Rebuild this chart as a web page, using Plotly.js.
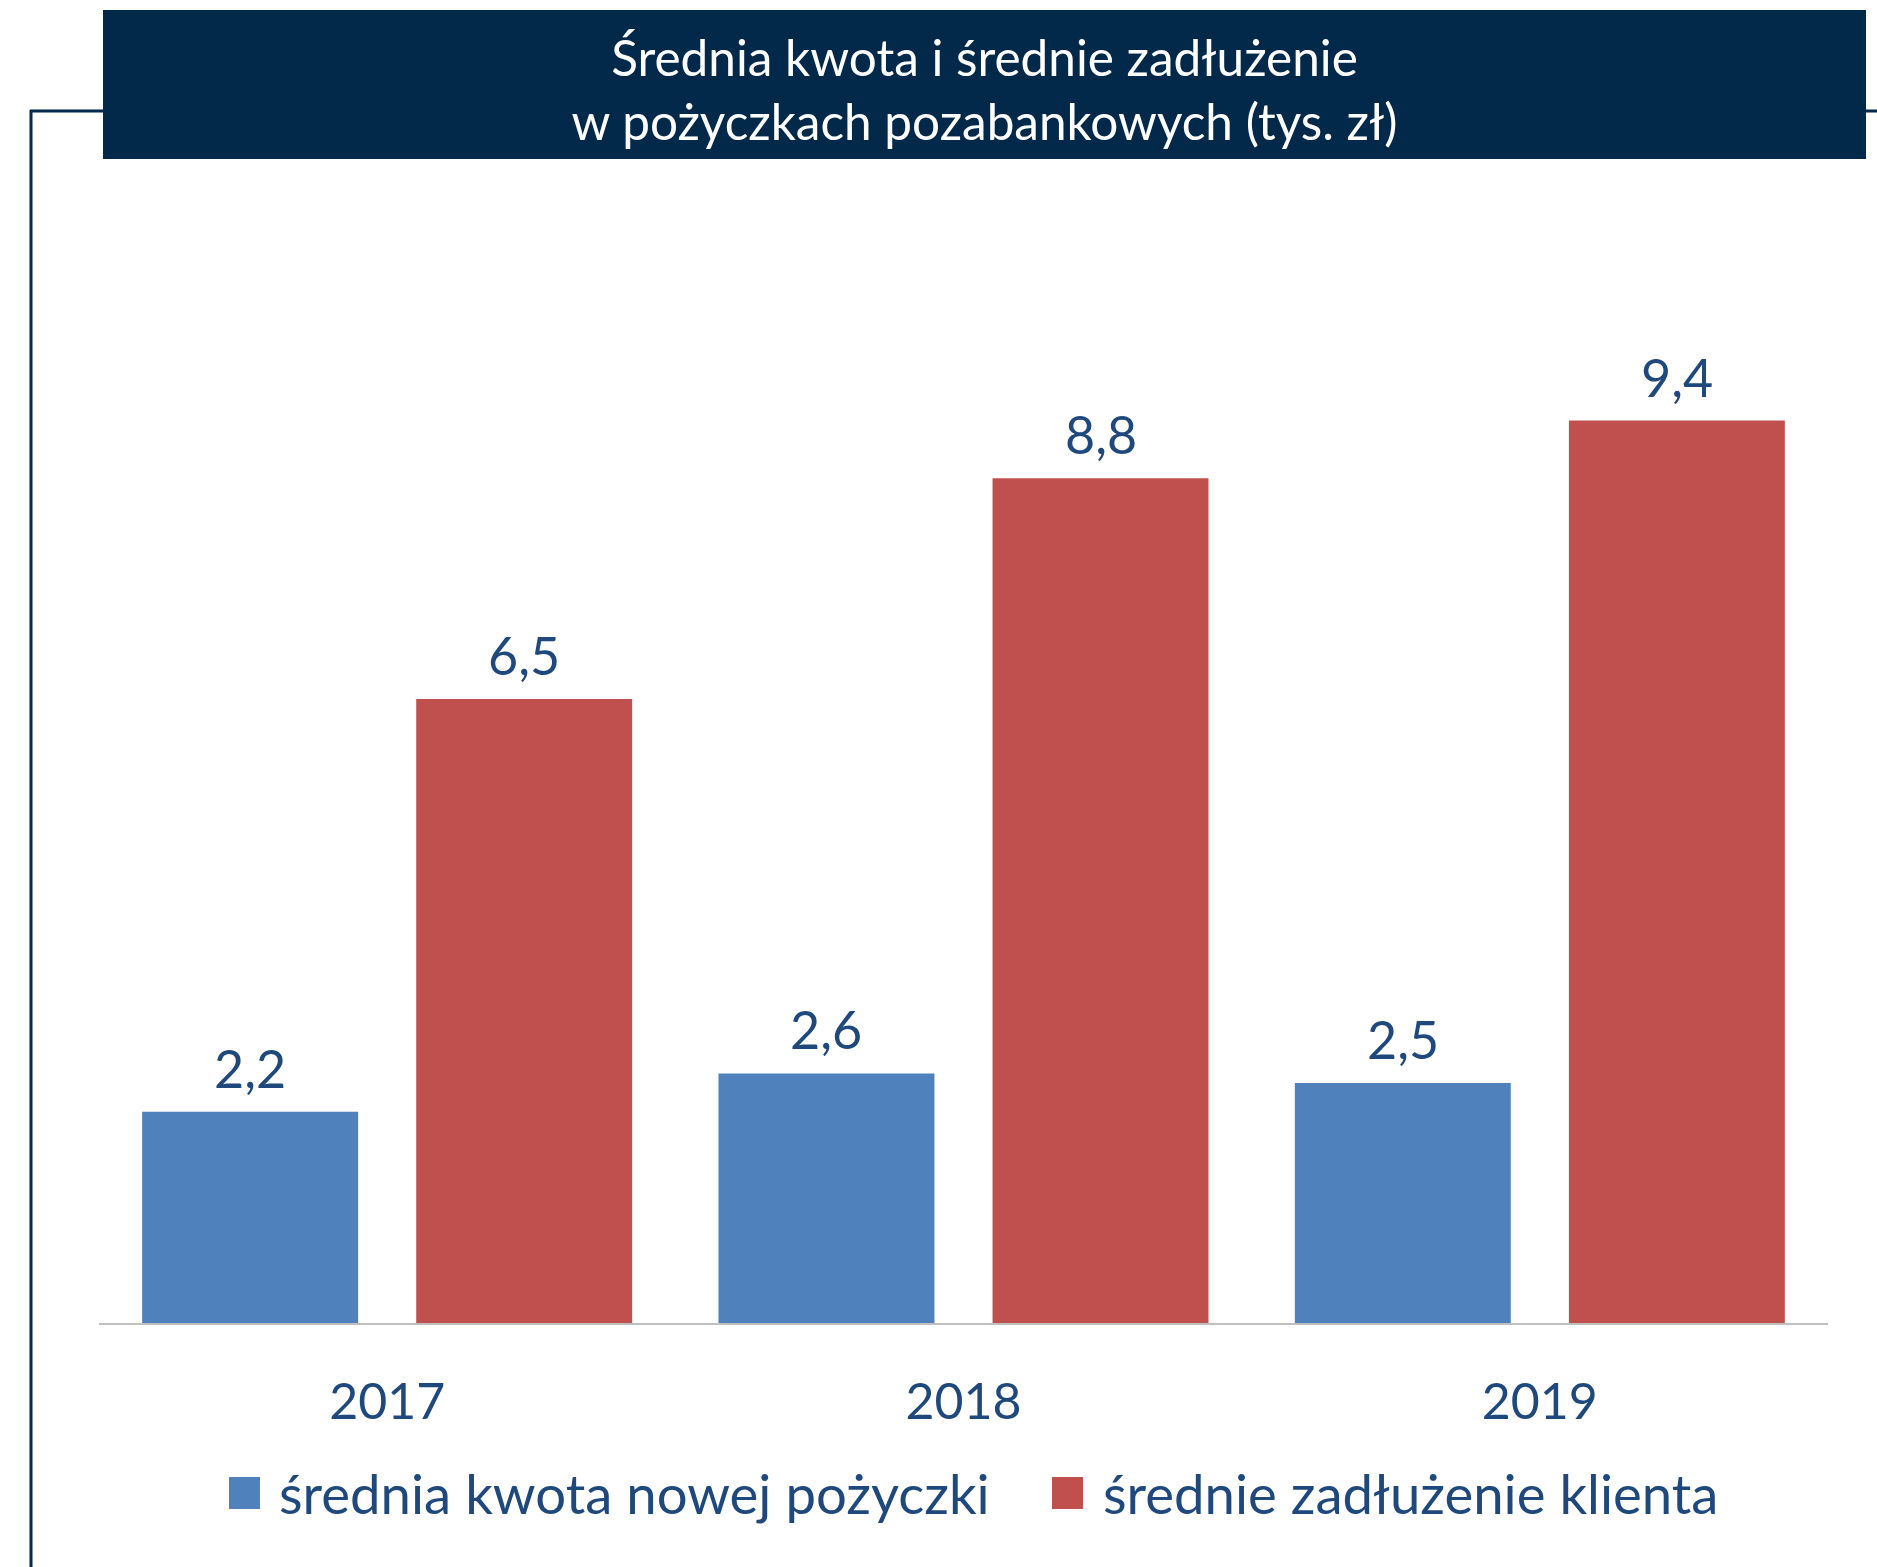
<!DOCTYPE html>
<html>
<head>
<meta charset="utf-8">
<script src="https://cdn.plot.ly/plotly-3.0.1.min.js"></script>
<style>html,body{margin:0;padding:0;background:#fff;}#chart{width:1877px;height:1567px;}</style>
</head>
<body>
<div id="chart"></div>
<script>
// ---- data ----
const years = ['2017', '2018', '2019'];
const seriesNames = ['średnia kwota nowej pożyczki', 'średnie zadłużenie klienta'];
const avgNewLoan = [2.2, 2.6, 2.5];
const avgDebt = [6.5, 8.8, 9.4];
const titleLines = ['Średnia kwota i średnie zadłużenie', 'w pożyczkach pozabankowych (tys. zł)'];

// ---- style ----
const W = 1877, H = 1567;
const M = {l: 99, r: 49, t: 363, b: 244};
const PW = W - M.l - M.r, PH = H - M.t - M.b;
const FONT = 'Lato, "Open Sans", sans-serif';
const TXT = '#1F497D';
const NAVY = '#03294A';
const colors = ['#4F81BD', '#C0504D'];
const bargap = 0.049, bargroupgap = 0.212;

const px = x => (x - M.l) / PW;
const py = y => (H - M.b - y) / PH;

const seriesValues = [avgNewLoan, avgDebt];
const traces = seriesValues.map((vals, j) => ({
  type: 'bar', name: seriesNames[j], x: years, y: vals,
  marker: {color: colors[j]}, showlegend: false, hoverinfo: 'x+y'
}));

// data labels above the bars (offset derived from bargap / group layout)
const slot = (1 - bargap) / seriesValues.length;
const annotations = [];
seriesValues.forEach((vals, j) => {
  const off = -(1 - bargap) / 2 + slot * (j + 0.5);
  vals.forEach((v, i) => {
    annotations.push({
      xref: 'x', yref: 'y', x: i + off, y: v, yanchor: 'bottom', yshift: 11,
      text: v.toFixed(1).replace('.', ','), showarrow: false,
      font: {family: FONT, size: 52, color: TXT}
    });
  });
});

// manual legend (large square swatches)
const legendItems = [{sq: [229, 260], tx: 277}, {sq: [1052, 1083], tx: 1101}];
const shapes = [];
legendItems.forEach((it, j) => {
  shapes.push({type: 'rect', xref: 'paper', yref: 'paper', x0: px(it.sq[0]), x1: px(it.sq[1]),
    y0: py(1509), y1: py(1477), fillcolor: colors[j], line: {width: 0}});
  annotations.push({xref: 'paper', yref: 'paper', x: px(it.tx), y: py(1493), xanchor: 'left', yanchor: 'middle',
    text: seriesNames[j], showarrow: false, font: {family: FONT, size: 54.5, color: TXT}});
});

// title box and bracket lines
shapes.push({type: 'rect', xref: 'paper', yref: 'paper', x0: px(103), x1: px(1866), y0: py(159), y1: py(10),
  fillcolor: NAVY, line: {width: 0}, layer: 'below'});
shapes.push({type: 'line', xref: 'paper', yref: 'paper', x0: px(31), x1: px(31), y0: py(110), y1: py(1570),
  line: {color: NAVY, width: 3}});
shapes.push({type: 'line', xref: 'paper', yref: 'paper', x0: px(30), x1: px(103), y0: py(111), y1: py(111),
  line: {color: NAVY, width: 3}});
shapes.push({type: 'line', xref: 'paper', yref: 'paper', x0: px(1866), x1: px(1880), y0: py(111), y1: py(111),
  line: {color: NAVY, width: 3}});

const layout = {
  width: W, height: H, margin: M, paper_bgcolor: '#fff', plot_bgcolor: '#fff',
  title: {text: titleLines.join('<br>'), font: {family: FONT, size: 49.5, color: '#fff'},
    xref: 'container', yref: 'container', x: 984.5 / W, xanchor: 'center', y: 1 - 76 / H, yanchor: 'middle'},
  barmode: 'group', bargap: bargap, bargroupgap: bargroupgap,
  xaxis: {type: 'category', showline: true, linecolor: '#BFBFBF', linewidth: 2, ticks: '', showgrid: false,
    zeroline: false, ticklabelstandoff: 34, tickfont: {family: FONT, size: 50, color: TXT}},
  yaxis: {range: [0, 10], visible: false, showgrid: false, zeroline: false},
  shapes: shapes, annotations: annotations, showlegend: false
};

Plotly.newPlot('chart', traces, layout, {staticPlot: true});
</script>
</body>
</html>
